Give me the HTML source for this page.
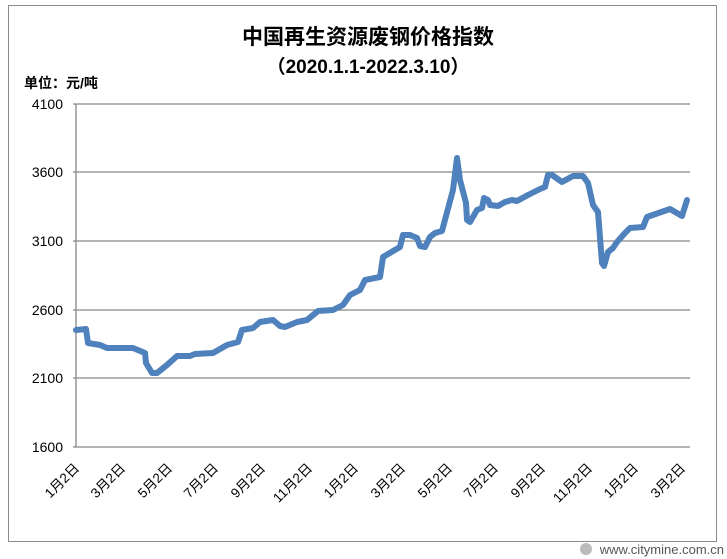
<!DOCTYPE html>
<html><head><meta charset="utf-8"><style>
html,body{margin:0;padding:0;background:#fff;}
svg{display:block;}
text{font-family:"Liberation Sans","Noto Sans CJK SC",sans-serif;}
</style></head><body>
<svg width="727" height="559" viewBox="0 0 727 559" xmlns="http://www.w3.org/2000/svg">
<rect x="0" y="0" width="727" height="559" fill="#fff"/>
<rect x="8.5" y="5.5" width="708" height="536" fill="none" stroke="#8c8c8c" stroke-width="1"/>
<text x="368" y="44" font-size="21" font-weight="bold" text-anchor="middle" fill="#000" font-family="Noto Sans CJK SC, sans-serif">中国再生资源废钢价格指数</text>
<text x="368" y="73" font-size="19" font-weight="bold" text-anchor="middle" fill="#000" font-family="Noto Sans CJK SC, sans-serif">（2020.1.1-2022.3.10）</text>
<text x="24" y="88" font-size="14" font-weight="bold" fill="#000" font-family="Noto Sans CJK SC, sans-serif">单位：元/吨</text>
<g stroke="#868686" stroke-width="1.3">
<line x1="73" y1="104" x2="690" y2="104"/>
<line x1="73" y1="172" x2="690" y2="172"/>
<line x1="73" y1="241" x2="690" y2="241"/>
<line x1="73" y1="310" x2="690" y2="310"/>
<line x1="73" y1="378" x2="690" y2="378"/>
<line x1="73" y1="447" x2="690" y2="447"/>
<line x1="76" y1="104" x2="76" y2="447"/>
</g>
<g font-size="14" text-anchor="end" fill="#000">
<text x="63" y="109">4100</text>
<text x="63" y="177">3600</text>
<text x="63" y="246">3100</text>
<text x="63" y="315">2600</text>
<text x="63" y="383">2100</text>
<text x="63" y="452">1600</text>
</g>
<polyline fill="none" stroke="#4f81bd" stroke-width="6" stroke-linejoin="round" stroke-linecap="round" points="
76,330 86,329 88,343 100,345 107,348 133,348 145,353 146,363 152,373 157,373 167,365 177,356 190,356 195,354 213,353 227,345 238,342 242,330 253,328 260,322 273,320 280,326 285,327 297,322 307,320 318,311 333,310 343,305 350,295 360,290 365,280 380,277 383,257 400,247 403,235 410,235 417,238 420,246 425,247 430,237 435,233 442,231 453,190 457,158 460,180 466,203 467,220 470,222 477,210 482,208 484,198 488,200 490,205 498,206 505,202 512,200 517,201 528,195 540,189 545,187 548,175 552,175 562,182 573,176 583,176 588,183 593,205 598,212 602,263 604,266 608,252 613,248 617,242 625,233 630,228 643,227 647,217 670,209 682,216 687,200"/>
<g font-size="13.5" fill="#000" text-anchor="end" font-family="Noto Sans CJK SC, sans-serif">
<text transform="translate(80,469) rotate(-45)">1月2日</text>
<text transform="translate(126,469) rotate(-45)">3月2日</text>
<text transform="translate(173,469) rotate(-45)">5月2日</text>
<text transform="translate(219,469) rotate(-45)">7月2日</text>
<text transform="translate(266,469) rotate(-45)">9月2日</text>
<text transform="translate(313,469) rotate(-45)">11月2日</text>
<text transform="translate(359,469) rotate(-45)">1月2日</text>
<text transform="translate(406,469) rotate(-45)">3月2日</text>
<text transform="translate(453,469) rotate(-45)">5月2日</text>
<text transform="translate(499,469) rotate(-45)">7月2日</text>
<text transform="translate(546,469) rotate(-45)">9月2日</text>
<text transform="translate(593,469) rotate(-45)">11月2日</text>
<text transform="translate(639,469) rotate(-45)">1月2日</text>
<text transform="translate(686,469) rotate(-45)">3月2日</text>
</g>
<circle cx="586" cy="549" r="6" fill="#bbb"/>
<text x="724" y="554" font-size="13" text-anchor="end" fill="#555">www.citymine.com.cn</text>
</svg>
</body></html>
